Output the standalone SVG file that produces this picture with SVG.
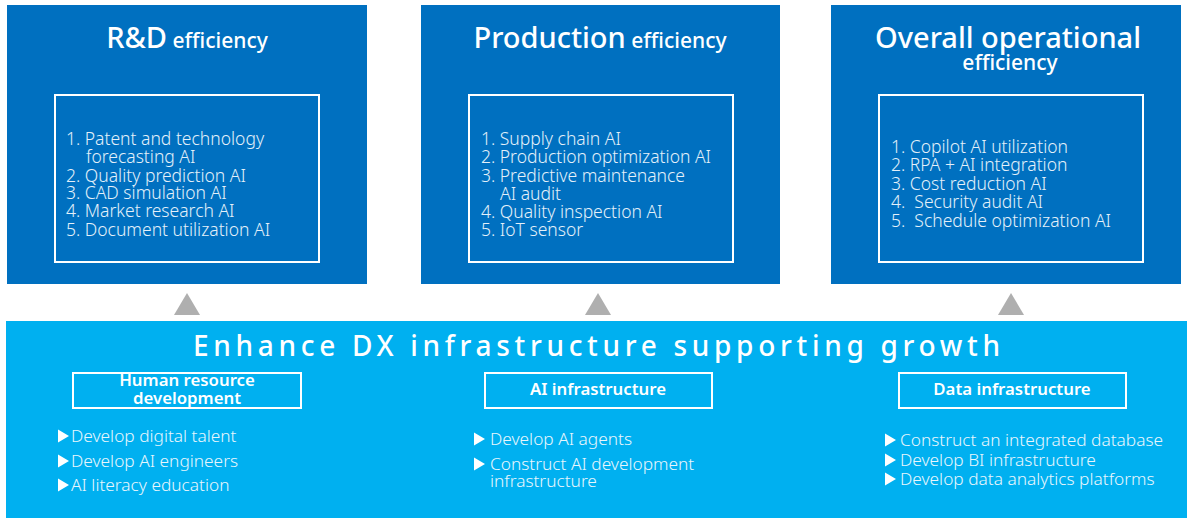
<svg xmlns="http://www.w3.org/2000/svg" width="1187" height="518" viewBox="0 0 1187 518">
<style>
.panel{fill:#0070C0}
.inner{fill:none;stroke:#FFFFFF;stroke-width:2}
.base{fill:#00B0F0}
.sub{fill:none;stroke:#FFFFFF;stroke-width:2}
.tri{fill:#AFAFAF}
.big{font-family:"Noto Sans","Liberation Sans",sans-serif;font-size:29px;fill:#FFFFFF;font-weight:500}
.small{font-family:"Noto Sans","Liberation Sans",sans-serif;font-size:21px;fill:#FFFFFF;font-weight:500}
.item{font-family:"Noto Sans","Liberation Sans",sans-serif;font-size:17.5px;fill:#E4F0FA;font-weight:300}
.hdr{font-family:"Noto Sans","Liberation Sans",sans-serif;font-size:16.8px;fill:#FFFFFF;font-weight:600}
.bul{font-family:"Noto Sans","Liberation Sans",sans-serif;font-size:17.3px;fill:#E8F6FD;font-weight:300}
.head{font-family:"Noto Sans","Liberation Sans",sans-serif;font-size:28px;fill:#FFFFFF;font-weight:500}
.arrowhead{fill:#FFFFFF}
</style>
<defs>
<polygon id="bt" points="0,-6.5 11,0 0,6.5" class="arrowhead"/>
</defs>
<g id="rd">
<rect class="panel" x="7" y="5" width="360" height="279"/>
<text x="187" y="48" text-anchor="middle"><tspan class="big">R&amp;D</tspan><tspan class="small"> efficiency</tspan></text>
<rect class="inner" x="55" y="95" width="264" height="167"/>
<text class="item" x="66" y="145">1. Patent and technology</text>
<text class="item" x="86" y="163">forecasting AI</text>
<text class="item" x="66" y="182">2. Quality prediction AI</text>
<text class="item" x="66" y="199">3. CAD simulation AI</text>
<text class="item" x="66" y="217">4. Market research AI</text>
<text class="item" x="66" y="236">5. Document utilization AI</text>
</g>
<g id="production">
<rect class="panel" x="421" y="5" width="359" height="279"/>
<text x="600" y="48" text-anchor="middle"><tspan class="big">Production</tspan><tspan class="small"> efficiency</tspan></text>
<rect class="inner" x="469" y="95" width="264" height="167"/>
<text class="item" x="481" y="145">1. Supply chain AI</text>
<text class="item" x="481" y="163">2. Production optimization AI</text>
<text class="item" x="481" y="182">3. Predictive maintenance</text>
<text class="item" x="500" y="200">AI audit</text>
<text class="item" x="481" y="218">4. Quality inspection AI</text>
<text class="item" x="481" y="236">5. IoT sensor</text>
</g>
<g id="overall">
<rect class="panel" x="831" y="5" width="350" height="279"/>
<text class="big" x="1008" y="48" text-anchor="middle">Overall operational</text>
<text class="small" x="1010" y="70" text-anchor="middle">efficiency</text>
<rect class="inner" x="879" y="95" width="264" height="167"/>
<text class="item" x="891" y="153">1. Copilot AI utilization</text>
<text class="item" x="891" y="171">2. RPA + AI integration</text>
<text class="item" x="891" y="190">3. Cost reduction AI</text>
<text class="item" x="891" y="208" xml:space="preserve">4.  Security audit AI</text>
<text class="item" x="891" y="227" xml:space="preserve">5.  Schedule optimization AI</text>
</g>
<g id="connectors">
<polygon class="tri" points="174,315 200,315 187,293"/>
<polygon class="tri" points="585,315 611,315 598,293"/>
<polygon class="tri" points="998,315 1024,315 1011,293"/>
</g>
<g id="dx">
<rect class="base" x="6" y="321" width="1181" height="197"/>
<text class="head" x="193" y="356" textLength="807" lengthAdjust="spacing">Enhance DX infrastructure supporting growth</text>
</g>
<g id="hr">
<rect class="sub" x="73" y="373" width="228" height="35"/>
<text class="hdr" x="187" y="386" text-anchor="middle">Human resource</text>
<text class="hdr" x="187" y="404" text-anchor="middle">development</text>
<use href="#bt" x="58" y="436"/>
<text class="bul" x="71" y="442">Develop digital talent</text>
<use href="#bt" x="58" y="461"/>
<text class="bul" x="71" y="467">Develop AI engineers</text>
<use href="#bt" x="58" y="485"/>
<text class="bul" x="71" y="491">AI literacy education</text>
</g>
<g id="ai">
<rect class="sub" x="485" y="373" width="227" height="35"/>
<text class="hdr" x="598" y="395" text-anchor="middle">AI infrastructure</text>
<use href="#bt" x="474" y="439"/>
<text class="bul" x="490" y="445">Develop AI agents</text>
<use href="#bt" x="474" y="464"/>
<text class="bul" x="490" y="470">Construct AI development</text>
<text class="bul" x="490" y="487">infrastructure</text>
</g>
<g id="data">
<rect class="sub" x="899" y="373" width="227" height="35"/>
<text class="hdr" x="1012" y="395" text-anchor="middle">Data infrastructure</text>
<use href="#bt" x="885" y="440"/>
<text class="bul" x="900" y="446">Construct an integrated database</text>
<use href="#bt" x="885" y="460"/>
<text class="bul" x="900" y="466">Develop BI infrastructure</text>
<use href="#bt" x="885" y="479"/>
<text class="bul" x="900" y="485">Develop data analytics platforms</text>
</g>
</svg>
